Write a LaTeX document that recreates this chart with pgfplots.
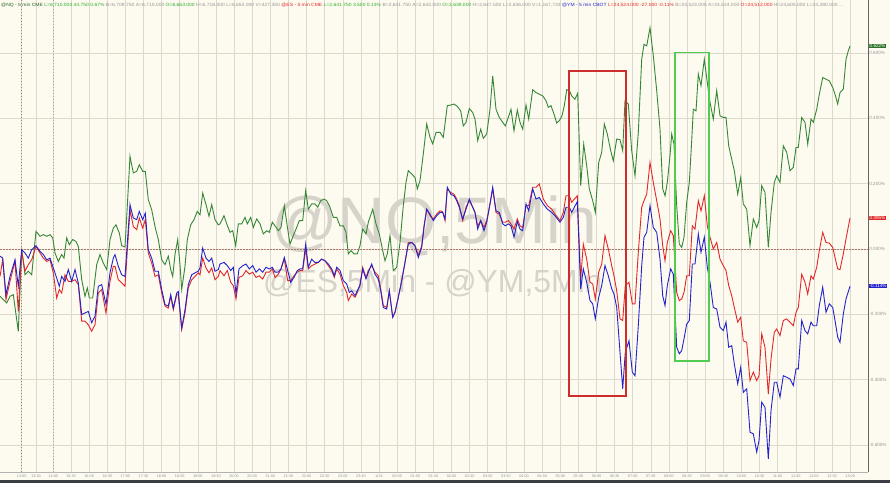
\documentclass[border=0pt]{standalone}
\usepackage{fontspec}
\setmainfont{Liberation Sans}
\usepackage{graphicx}
\usepackage{pgfplots}
\pgfplotsset{compat=1.18}
\definecolor{bgcream}{RGB}{253,250,240}
\definecolor{gridc}{RGB}{221,217,205}
\definecolor{wm}{RGB}{214,211,202}
\definecolor{strip}{RGB}{58,62,68}
\definecolor{lgreen}{RGB}{52,135,52}
\definecolor{lred}{RGB}{225,40,40}
\definecolor{lblue}{RGB}{35,35,205}
\definecolor{hgreen}{RGB}{40,175,40}
\definecolor{hgrey}{RGB}{150,150,150}
\definecolor{boxred}{RGB}{205,45,45}
\definecolor{boxgreen}{RGB}{80,205,80}
\definecolor{zeroc}{RGB}{175,120,110}
\begin{document}
\begin{tikzpicture}
\fill[bgcream] (0,0) rectangle (890bp,483bp);
\fill[strip] (0,0) rectangle (890bp,3bp);
\useasboundingbox (0,0) rectangle (890bp,483bp);
\begin{axis}[
  at={(0,11bp)}, anchor=south west,
  scale only axis, width=868bp, height=472bp,
  xmin=0, xmax=868, ymin=-0.683, ymax=0.7627,
  axis line style={draw=none},
  clip=false,
  major tick length=0pt,
  grid=major,
  major grid style={gridc, line width=0.6bp},
  xtick={21.7,36,53.3,71.00,89.12,107.24,125.36,143.48,161.60,179.72,197.84,215.96,234.08,252.20,270.32,288.44,306.56,324.68,342.80,360.92,379.04,397.16,415.28,433.40,451.52,469.64,487.76,505.88,524.00,542.12,560.24,578.36,596.48,614.60,632.72,650.84,668.96,687.08,705.20,723.32,741.44,759.56,777.68,795.80,813.92,832.04,850.16},
  xticklabels={13:00,13:30,14:00,15:30,16:00,16:30,17:00,17:30,18:00,18:30,19:00,19:30,20:00,20:30,21:00,21:30,22:00,22:30,23:00,23:30,1/24,00:30,01:00,01:30,02:00,02:30,03:00,03:30,04:00,04:30,05:00,05:30,06:00,06:30,07:00,07:30,08:00,08:30,09:00,09:30,10:00,10:30,11:00,11:30,12:00,12:30,13:00},
  xticklabel style={font=\fontsize{3.8}{4}\selectfont, text=hgrey, inner sep=0pt, yshift=-2.2bp},
  ytick={-0.6,-0.4,-0.2,0,0.2,0.4,0.6},
  yticklabels={-0.600\%,-0.400\%,-0.200\%,0.000\%,0.200\%,0.400\%,0.600\%},
  yticklabel pos=right,
  yticklabel style={font=\fontsize{4.6}{5}\selectfont, text=hgrey, inner sep=0pt, anchor=west, xshift=1.2bp},
]
% watermark
\node[anchor=base west, inner sep=0pt, text=wm, font=\fontsize{66}{66}\selectfont] at (axis cs:271,0.018) {@NQ,5Min};
\node[anchor=base west, inner sep=0pt, text=wm, font=\fontsize{32}{32}\selectfont] at (axis cs:263,-0.132) {@ES,5Min - @YM,5Min};
% reference lines
\draw[zeroc, dash pattern=on 1.5bp off 1.5bp, line width=0.7bp] (axis cs:0,0) -- (axis cs:868,0);
\draw[zeroc, dash pattern=on 1.5bp off 1.5bp, line width=0.7bp] (axis cs:21.7,-0.683) -- (axis cs:21.7,0.7627);
\draw[gray!70, dash pattern=on 1.5bp off 1.5bp, line width=0.7bp] (axis cs:53.3,-0.683) -- (axis cs:53.3,0.7627);
\draw[gray!60, line width=0.6bp] (rel axis cs:0,0) -- (rel axis cs:1,0);
\draw[gray!80!black, line width=0.9bp] (rel axis cs:1,0) -- (rel axis cs:1,1);
% NQ
\addplot[lgreen, line width=0.9bp, mark=none] coordinates {
(0,-0.145) (6.7,-0.165) (10,-0.145) (13.3,-0.140) (18.3,-0.252) (21.7,-0.002) (25,-0.079) (28.3,-0.068) (31.7,-0.079) (36,0.054) (40,0.039) (43.3,0.044) (46.7,0.039) (50,0.044) (52.7,0.034) (55,-0.012) (58.3,-0.038) (61.7,-0.017) (64,-0.028) (66.7,0.034) (69.3,0.013) (72.7,0.029) (76,0.023) (78.3,0.008) (81.7,-0.094) (85,-0.145) (87.3,-0.119) (89.3,-0.150) (92.7,-0.150) (96.7,-0.048) (100,-0.017) (103.3,-0.043) (106.7,-0.063) (110,0.029) (113.3,0.064) (116,0.074) (119.3,0.049) (121.7,0.010) (125,0.006) (127.3,0.131) (130,0.284) (133.3,0.233) (136.7,0.238) (139.3,0.258) (142.7,0.238) (145.3,0.238) (148.3,0.151) (151.7,0.120) (155,0.069) (158.3,0.029) (161.7,-0.033) (165,-0.048) (168.3,-0.022) (170.7,-0.063) (172.7,-0.084) (175,-0.017) (177.7,0.029) (180,-0.048) (181.7,-0.124) (185,-0.053) (187.3,0.029) (190.7,0.074) (194,0.090) (197.3,0.115) (200,0.105) (202.7,0.171) (206,0.136) (209,0.100) (211.7,0.136) (215,0.090) (218.3,0.074)
(220,0.077) (224,0.102) (226.7,0.077) (230,0.051) (232.7,0.056) (235.7,0.010) (238.3,0.077) (241.7,0.077) (245,0.097) (247.3,0.077) (250.7,0.097) (253.3,0.066) (256.7,0.092) (260,0.077) (263.3,0.046) (266.7,0.056) (269.3,0.051) (272.3,0.082) (275,0.071) (278.3,0.056) (281,0.066) (284.3,0.133) (287.7,0.061) (290,0.015) (293.3,0.041) (296.7,0.066) (299.3,0.087) (302.7,0.087) (305.7,0.179) (308.3,0.122) (311.7,0.138) (315,0.138) (317.7,0.128) (320.7,0.148) (324,0.153) (326.7,0.148) (330,0.128) (333.3,0.097) (336.7,0.097) (340,0.071) (343.3,0.071) (346,0.051) (348.3,-0.015) (351,-0.005) (354,-0.015) (357.3,-0.015) (360,0.010) (362.7,0.061) (366,0.046) (368.3,0.082) (372.7,0.122) (376,0.077) (379.3,0.046) (382.7,-0.005) (385,-0.036) (387.3,-0.015) (390,0.041) (393.3,-0.066) (396.7,-0.056) (400,0.020) (403.3,0.133) (406,0.204) (408.3,0.240) (411.7,0.230) (415,0.219) (417.3,0.184) (420,0.209) (423.3,0.291) (426.7,0.383) (430,0.342) (432.7,0.322) (436,0.357)
(440,0.357) (443.3,0.342) (447.3,0.439) (450.7,0.441) (454,0.444) (457.3,0.437) (460.7,0.423) (463.3,0.377) (466,0.388) (469.3,0.430) (472.7,0.418) (475,0.398) (477.7,0.332) (480.7,0.367) (483.3,0.339) (486.7,0.352) (490,0.428) (492.7,0.530) (496,0.428) (499.3,0.403) (502.7,0.388) (505.3,0.377) (508.3,0.403) (511,0.428) (514,0.362) (517.3,0.426) (520,0.388) (522.7,0.367) (526,0.441) (528.7,0.398) (532.7,0.488) (536,0.479) (539.3,0.474) (542.7,0.469) (546,0.454) (548.3,0.434) (551,0.439) (554,0.413) (556.7,0.386) (559.3,0.393) (562,0.408) (564.3,0.439) (566.7,0.488) (569.3,0.485) (571.7,0.469) (575,0.459) (577.7,0.477) (580.7,0.194) (583.7,0.321) (586.7,0.255) (589.3,0.184) (592.7,0.148) (595.3,0.112) (598.7,0.265) (601.7,0.296) (604.3,0.383) (607.3,0.352) (610.7,0.301) (613.3,0.270) (616.7,0.337) (620,0.335) (622.7,0.301) (625,0.454) (628.3,0.444) (631.7,0.301) (635,0.224) (638.3,0.357) (641.7,0.581) (644,0.627) (646.7,0.622) (650,0.678) (653.3,0.592) (656.7,0.485)
(660,0.367) (662.7,0.184) (665,0.163) (667.3,0.204) (670,0.286) (671.7,0.352) (674,0.321) (676.7,0.133) (679.3,0.015) (681.7,0.005) (684,0.036) (686.7,0.143) (689.3,0.204) (691.7,0.332) (693.3,0.428) (696,0.423) (698.3,0.536) (701,0.500) (704.3,0.581) (707.3,0.510) (710,0.449) (713.3,0.398) (716.7,0.485) (720,0.408) (723.3,0.403) (726,0.403) (728.7,0.316) (731.7,0.275) (734.3,0.240) (737.7,0.168) (740.7,0.219) (743.3,0.138) (746.7,0.122) (750,0.010) (753.3,0.092) (756.7,0.066) (759,0.087) (761.7,0.194) (765,0.173) (768.3,0.005) (771,0.112) (774.3,0.204) (776.7,0.224) (780,0.204) (783.3,0.316) (786.7,0.296) (790,0.240) (793.3,0.250) (796,0.311) (798.3,0.311) (801.7,0.403) (805,0.388) (807.7,0.321) (811,0.398) (813.3,0.388) (816.7,0.428) (819.3,0.474) (822.7,0.525) (826,0.520) (829.3,0.515) (832.7,0.495) (835,0.474) (837.7,0.444) (840,0.479) (843.3,0.490) (846,0.581) (848.3,0.607) (850,0.622)
};
% ES
\addplot[lred, line width=0.9bp, mark=none] coordinates {
(0,-0.084) (2.7,-0.033) (6,-0.155) (10,-0.099) (15,-0.038) (18.3,-0.191) (21.7,-0.007) (25,-0.068) (28.3,-0.048) (31.7,-0.033) (36,0.008) (40,-0.012) (43.3,-0.028) (46.7,-0.038) (50,-0.033) (53.3,-0.073) (56.7,-0.150) (59.3,-0.124) (61.7,-0.135) (65,-0.079) (68.3,-0.099) (71.7,-0.099) (75,-0.094) (78.3,-0.109) (81.7,-0.221) (85,-0.221) (88.3,-0.232) (91.7,-0.252) (95,-0.232) (98.3,-0.135) (101.7,-0.124) (106,-0.196) (110,-0.099) (113.3,-0.053) (115,-0.053) (118.3,-0.094) (121.7,-0.104) (125,-0.114) (130,0.120) (133.3,0.069) (136.7,0.059) (139.3,0.095) (142.7,0.064) (145.3,0.090) (148.3,-0.012) (151.7,-0.043) (155,-0.084) (158.3,-0.079) (161.7,-0.135) (165,-0.175) (168.3,-0.181) (170.7,-0.145) (173.3,-0.186) (176.7,-0.140) (178.3,-0.140) (181.7,-0.247) (185,-0.196) (188.3,-0.119) (191.7,-0.094) (195,-0.084) (198.3,-0.073) (200,-0.079) (202.7,-0.028) (206,-0.058) (209,-0.073) (211.7,-0.058) (215,-0.094) (218.3,-0.084)
(220,-0.066) (224,-0.082) (227.3,-0.066) (230.7,-0.102) (233.3,-0.112) (236,-0.153) (239,-0.087) (242.7,-0.082) (246,-0.066) (249.3,-0.077) (252.7,-0.071) (256,-0.087) (259.3,-0.082) (262.7,-0.092) (266,-0.071) (269.3,-0.071) (272.3,-0.061) (275,-0.087) (278.3,-0.077) (281,-0.061) (284.3,-0.031) (287.7,-0.097) (290.7,-0.097) (294,-0.082) (297.3,-0.071) (300,-0.066) (302.7,-0.066) (305.7,0.000) (308.3,-0.061) (311.7,-0.051) (315,-0.046) (318.3,-0.041) (321.7,-0.031) (325,-0.036) (328.3,-0.051) (331.7,-0.066) (334.3,-0.087) (336.7,-0.061) (340,-0.077) (343.3,-0.112) (346.7,-0.133) (348.3,-0.158) (351.7,-0.138) (355,-0.148) (357.3,-0.133) (360,-0.107) (362.7,-0.056) (366,-0.087) (368.3,-0.066) (371.7,-0.051) (375,-0.071) (378.3,-0.082) (380.7,-0.122) (383.3,-0.173) (386.7,-0.179) (389.3,-0.128) (392.7,-0.209) (395,-0.194) (398.3,-0.148) (401.7,-0.097) (405,-0.041) (408.3,0.020) (411.7,0.020) (415,0.010) (418.3,-0.020) (421.7,0.010) (424,0.071) (426.7,0.122) (430,0.102) (433.3,0.092) (436.7,0.107)
(440,0.117) (442.7,0.114) (445,0.087) (447.3,0.184) (450.7,0.173) (454,0.168) (456.7,0.153) (459.3,0.133) (462.7,0.087) (466,0.128) (469.3,0.148) (472.7,0.128) (475,0.112) (477.7,0.071) (480.7,0.087) (484,0.066) (486.7,0.087) (490,0.138) (492.7,0.184) (496,0.112) (499.3,0.107) (502.7,0.082) (505.3,0.082) (508.3,0.087) (511,0.077) (514,0.061) (517.3,0.092) (520,0.071) (522.7,0.066) (526,0.133) (528.7,0.133) (532.7,0.189) (536,0.189) (539.3,0.199) (543.3,0.153) (547.3,0.133) (551.7,0.122) (555,0.107) (560,0.087) (563.3,0.112) (566,0.163) (569.3,0.163) (571.7,0.143) (574.3,0.153) (577.3,0.163) (580.7,-0.092) (583.3,0.015) (586.7,-0.031) (590,-0.102) (592.7,-0.107) (595.3,-0.153) (598.7,-0.071) (601.7,-0.046) (605,0.041) (608.3,0.000) (611.7,-0.051) (614,-0.082) (616.7,-0.128) (620,-0.214) (622.7,-0.219) (625.3,-0.112) (629,-0.102) (632.3,-0.168) (635,-0.168) (638.3,-0.010) (641.7,0.128) (644,0.148) (646.7,0.168) (650,0.265) (653.3,0.204) (656.7,0.148)
(660,0.092) (662.7,0.010) (665,-0.036) (667.3,0.020) (670.7,0.056) (673.3,0.041) (676.7,-0.133) (679.3,-0.158) (681.7,-0.153) (684,-0.133) (686.7,-0.082) (689.3,-0.082) (692.3,0.071) (695,0.061) (698.3,0.148) (701,0.117) (704.3,0.163) (707.3,0.071) (710,0.036) (713.3,0.000) (716.7,0.020) (720,-0.031) (723.3,-0.051) (726,-0.066) (728.7,-0.112) (731.7,-0.143) (734.3,-0.179) (737.7,-0.224) (740.7,-0.209) (743.3,-0.281) (746.7,-0.286) (750,-0.403) (753.3,-0.377) (756.7,-0.403) (759,-0.388) (761.7,-0.260) (765,-0.301) (768.3,-0.444) (771,-0.337) (774.3,-0.255) (776.7,-0.245) (780,-0.265) (783.3,-0.219) (786.7,-0.214) (790,-0.224) (793.3,-0.235) (796,-0.194) (798.3,-0.179) (801.7,-0.077) (805,-0.102) (807.7,-0.138) (811,-0.082) (813.3,-0.092) (816.7,-0.056) (819.3,-0.005) (822.7,0.051) (826,0.020) (829.3,0.018) (832.7,0.005) (835,-0.026) (837.7,-0.061) (840,-0.063) (843.3,-0.015) (846,0.031) (850,0.095)
};
% YM
\addplot[lblue, line width=0.9bp, mark=none] coordinates {
(0,-0.022) (2.7,-0.028) (6,-0.140) (10,-0.084) (15,-0.033) (18.3,-0.114) (21.7,-0.002) (25,-0.012) (28.3,-0.028) (31.7,-0.002) (36,0.010) (40,-0.007) (43.3,-0.017) (46.7,-0.033) (50,-0.028) (53.3,-0.058) (56.7,-0.089) (59.3,-0.114) (61.7,-0.084) (65,-0.099) (68.3,-0.063) (71.7,-0.099) (75,-0.063) (78.3,-0.104) (81.7,-0.201) (85,-0.196) (88.3,-0.191) (91.7,-0.226) (95,-0.206) (98.3,-0.114) (101.7,-0.109) (106,-0.170) (110,-0.073) (113.3,-0.028) (115,-0.017) (118.3,-0.053) (121.7,-0.079) (125,-0.084) (130,0.136) (133.3,0.095) (136.7,0.090) (139.3,0.115) (142.7,0.090) (145.3,0.110) (148.3,-0.002) (151.7,-0.028) (155,-0.068) (158.3,-0.068) (161.7,-0.124) (165,-0.170) (168.3,-0.175) (170.7,-0.140) (173.3,-0.181) (176.7,-0.135) (178.3,-0.130) (181.7,-0.242) (185,-0.186) (188.3,-0.109) (191.7,-0.079) (195,-0.073) (198.3,-0.068) (200,-0.058) (202.7,0.003) (206,-0.028) (209,-0.038) (211.7,-0.028) (215,-0.068) (218.3,-0.063)
(220,-0.046) (224,-0.041) (227.3,-0.051) (230.7,-0.066) (233.3,-0.056) (236,-0.138) (239,-0.061) (242.7,-0.051) (246,-0.046) (249.3,-0.061) (252.7,-0.051) (256,-0.071) (259.3,-0.061) (262.7,-0.071) (266,-0.056) (269.3,-0.061) (272.3,-0.056) (275,-0.071) (278.3,-0.071) (281,-0.061) (284.3,-0.026) (287.7,-0.066) (290.7,-0.102) (294,-0.087) (297.3,-0.066) (300,-0.061) (302.7,-0.061) (305.7,0.015) (308.3,-0.056) (311.7,-0.031) (315,-0.041) (318.3,-0.041) (321.7,-0.031) (325,-0.036) (328.3,-0.046) (331.7,-0.061) (334.3,-0.082) (336.7,-0.056) (340,-0.066) (343.3,-0.097) (346.7,-0.107) (349.3,-0.133) (351.7,-0.128) (355,-0.143) (357.3,-0.128) (360,-0.112) (362.7,-0.061) (366,-0.092) (368.3,-0.071) (371.7,-0.046) (375,-0.077) (378.3,-0.092) (380.7,-0.128) (383.3,-0.179) (386.7,-0.184) (389.3,-0.128) (392.7,-0.209) (395,-0.194) (398.3,-0.148) (401.7,-0.097) (405,-0.041) (408.3,0.015) (411.7,0.020) (415,0.010) (418.3,-0.026) (421.7,0.005) (424,0.066) (426.7,0.122) (430,0.107) (433.3,0.087) (436.7,0.102)
(440,0.112) (442.7,0.112) (445,0.092) (447.3,0.189) (450.7,0.168) (454,0.163) (456.7,0.148) (459.3,0.128) (462.7,0.092) (466,0.122) (469.3,0.153) (472.7,0.128) (475,0.112) (477.7,0.061) (480.7,0.087) (484,0.056) (486.7,0.082) (490,0.138) (492.7,0.189) (496,0.117) (499.3,0.112) (502.7,0.077) (505.3,0.071) (508.3,0.077) (511,0.071) (514,0.036) (517.3,0.084) (520,0.061) (522.7,0.056) (526,0.138) (528.7,0.117) (532.7,0.184) (536,0.153) (539.3,0.158) (543.3,0.138) (547.3,0.122) (551.7,0.112) (555,0.102) (560,0.082) (563.3,0.097) (566,0.128) (569.3,0.128) (571.7,0.112) (574.3,0.128) (577.3,0.145) (580.7,-0.122) (583.3,-0.061) (586.7,-0.102) (590,-0.158) (592.7,-0.168) (595.3,-0.214) (598.7,-0.148) (601.7,-0.112) (605,-0.051) (608.3,-0.082) (611.7,-0.122) (614,-0.138) (616.7,-0.179) (620,-0.316) (622.7,-0.428) (625.3,-0.316) (629,-0.281) (632.3,-0.377) (635,-0.388) (638.3,-0.235) (641.7,-0.051) (644,0.036) (646.7,0.051) (650,0.133) (653.3,0.066) (656.7,0.051)
(660,-0.031) (662.7,-0.143) (665,-0.173) (667.3,-0.112) (670.7,-0.061) (673.3,-0.077) (676.7,-0.301) (679.3,-0.321) (681.7,-0.311) (684,-0.275) (686.7,-0.230) (689.3,-0.219) (692.3,-0.046) (695,-0.046) (698.3,0.046) (701,-0.010) (704.3,0.036) (707.3,-0.056) (710,-0.102) (713.3,-0.179) (716.7,-0.184) (720,-0.240) (723.3,-0.250) (726,-0.224) (728.7,-0.301) (731.7,-0.296) (734.3,-0.352) (737.7,-0.413) (740.7,-0.362) (743.3,-0.439) (746.7,-0.428) (750,-0.561) (753.3,-0.566) (756.7,-0.622) (759,-0.587) (761.7,-0.469) (765,-0.485) (768.3,-0.643) (771,-0.495) (774.3,-0.408) (776.7,-0.408) (780,-0.454) (783.3,-0.388) (786.7,-0.393) (790,-0.398) (793.3,-0.418) (796,-0.367) (798.3,-0.367) (801.7,-0.219) (805,-0.250) (807.7,-0.260) (811,-0.224) (813.3,-0.235) (816.7,-0.235) (819.3,-0.173) (822.7,-0.117) (826,-0.194) (829.3,-0.168) (832.7,-0.179) (835,-0.219) (837.7,-0.270) (840,-0.286) (843.3,-0.199) (846,-0.153) (850,-0.114)
};
% highlight boxes
\draw[boxred, line width=1.8bp] (axis cs:569,0.546) rectangle (axis cs:626,-0.450);
\draw[boxgreen, line width=1.8bp] (axis cs:675,0.602) rectangle (axis cs:709,-0.342);
% last value boxes
\node[anchor=west, fill=lgreen!85!black, text=white, inner xsep=1bp, inner ysep=0.6bp, font=\fontsize{4.6}{5}\selectfont] at (axis cs:868.5,0.622) {0.622\%};
\node[anchor=west, fill=lred, text=white, inner xsep=1bp, inner ysep=0.6bp, font=\fontsize{4.6}{5}\selectfont] at (axis cs:868.5,0.095) {0.095\%};
\node[anchor=west, fill=lblue, text=white, inner xsep=1bp, inner ysep=0.6bp, font=\fontsize{4.6}{5}\selectfont] at (axis cs:868.5,-0.114) {-0.114\%};
% header
\node[anchor=north west, inner sep=0pt] at (axis cs:1,0.755) {\resizebox{842bp}{3.3bp}{\textcolor{lgreen!70!black}{@NQ - 5 min CME} \textcolor{hgreen}{L=6,710.000 44.750 0.67\%} \textcolor{hgrey}{B=6,709.750 A=6,710.000} \textcolor{hgreen}{O=6,663.000} \textcolor{hgrey}{H=6,718.000 L=6,653.000 V=427,350} \textcolor{lred}{@ES - 5 min CME} \textcolor{hgreen}{L=2,641.750 3.500 0.13\%} \textcolor{hgrey}{B=2,641.750 A=2,642.000} \textcolor{hgreen}{O=2,639.000} \textcolor{hgrey}{H=2,647.500 L=2,636.000 V=1,167,733} \textcolor{lblue}{@YM - 5 min CBOT} \textcolor{lred}{L=24,524.000 -27.000 -0.11\%} \textcolor{hgrey}{B=24,523.000 A=24,524.000} \textcolor{lred}{O=24,512.000} \textcolor{hgrey}{H=24,605.000 L=24,280.000 ...}}};
\end{axis}
\end{tikzpicture}
\end{document}
